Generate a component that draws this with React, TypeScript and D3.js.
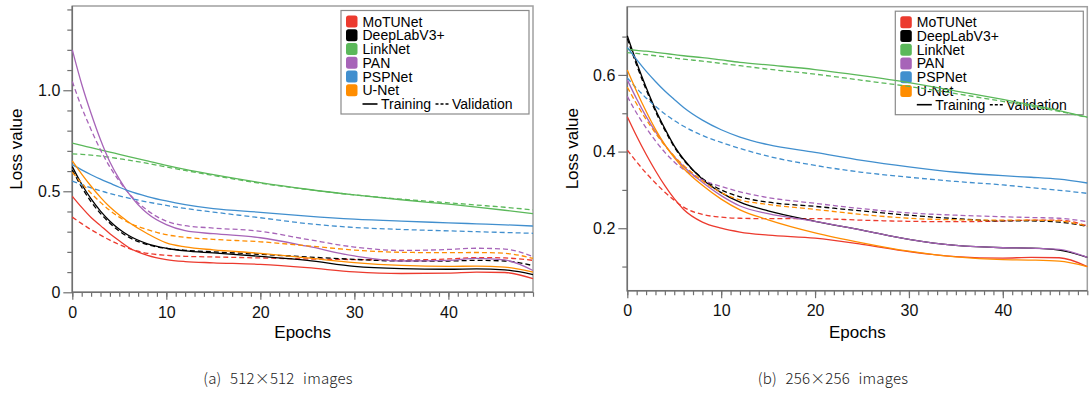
import React, { useEffect, useRef } from 'react'
import * as d3 from 'd3'

// sampled epochs (curves are smoothed between them)
const epochs = [0, 1, 2, 3, 4, 5, 6, 8, 10, 12, 15, 20, 25, 30, 35, 40, 43, 46, 49]

const models = ['MoTUNet', 'DeepLabV3+', 'LinkNet', 'PAN', 'PSPNet', 'U-Net']
const colors = ['#ec3a2e', '#000000', '#5bb85a', '#a764b8', '#418fce', '#ff8d00']

// (a) 512x512
const motunetTrain512 = [0.475, 0.420, 0.370, 0.330, 0.290, 0.255, 0.222, 0.183, 0.162, 0.152, 0.146, 0.138, 0.122, 0.101, 0.093, 0.095, 0.100, 0.098, 0.068]
const motunetVal512 = [0.372, 0.340, 0.310, 0.283, 0.258, 0.236, 0.217, 0.193, 0.183, 0.178, 0.175, 0.170, 0.165, 0.162, 0.160, 0.165, 0.172, 0.170, 0.158]
const deeplabTrain512 = [0.622, 0.535, 0.462, 0.402, 0.352, 0.312, 0.281, 0.240, 0.218, 0.205, 0.195, 0.178, 0.158, 0.128, 0.117, 0.114, 0.116, 0.111, 0.088]
const deeplabVal512 = [0.605, 0.520, 0.448, 0.390, 0.342, 0.303, 0.273, 0.236, 0.217, 0.208, 0.200, 0.188, 0.175, 0.163, 0.155, 0.155, 0.158, 0.155, 0.132]
const linknetTrain512 = [0.738, 0.727, 0.716, 0.705, 0.694, 0.683, 0.672, 0.650, 0.628, 0.608, 0.582, 0.543, 0.510, 0.482, 0.458, 0.436, 0.422, 0.406, 0.389]
const linknetVal512 = [0.685, 0.683, 0.679, 0.674, 0.668, 0.661, 0.654, 0.638, 0.620, 0.603, 0.578, 0.540, 0.509, 0.482, 0.461, 0.443, 0.432, 0.421, 0.408]
const panTrain512 = [1.200, 1.030, 0.885, 0.755, 0.645, 0.560, 0.490, 0.390, 0.335, 0.305, 0.290, 0.270, 0.228, 0.180, 0.155, 0.158, 0.168, 0.160, 0.108]
const panVal512 = [1.043, 0.915, 0.805, 0.705, 0.620, 0.550, 0.490, 0.405, 0.352, 0.330, 0.318, 0.302, 0.262, 0.224, 0.207, 0.212, 0.218, 0.214, 0.177]
const pspTrain512 = [0.632, 0.606, 0.582, 0.560, 0.540, 0.520, 0.502, 0.474, 0.452, 0.434, 0.414, 0.396, 0.377, 0.362, 0.352, 0.344, 0.339, 0.334, 0.328]
const pspVal512 = [0.550, 0.533, 0.517, 0.502, 0.489, 0.477, 0.466, 0.447, 0.430, 0.415, 0.397, 0.369, 0.340, 0.321, 0.311, 0.304, 0.300, 0.296, 0.292]
const unetTrain512 = [0.650, 0.585, 0.525, 0.470, 0.422, 0.382, 0.347, 0.290, 0.245, 0.225, 0.210, 0.193, 0.170, 0.147, 0.133, 0.128, 0.130, 0.125, 0.100]
const unetVal512 = [0.594, 0.540, 0.490, 0.445, 0.405, 0.372, 0.345, 0.310, 0.285, 0.272, 0.262, 0.250, 0.230, 0.209, 0.198, 0.196, 0.197, 0.193, 0.168]

// (b) 256x256
const motunetTrain256 = [0.491, 0.440, 0.393, 0.350, 0.311, 0.277, 0.249, 0.216, 0.200, 0.190, 0.182, 0.174, 0.158, 0.139, 0.126, 0.122, 0.124, 0.123, 0.100]
const motunetVal256 = [0.404, 0.373, 0.344, 0.318, 0.294, 0.273, 0.255, 0.236, 0.229, 0.226, 0.225, 0.225, 0.221, 0.218, 0.217, 0.219, 0.221, 0.221, 0.206]
const deeplabTrain256 = [0.702, 0.632, 0.568, 0.510, 0.460, 0.415, 0.380, 0.328, 0.293, 0.268, 0.245, 0.218, 0.195, 0.171, 0.155, 0.149, 0.148, 0.143, 0.124]
const deeplabVal256 = [0.695, 0.625, 0.562, 0.505, 0.456, 0.412, 0.378, 0.330, 0.300, 0.282, 0.268, 0.257, 0.245, 0.234, 0.225, 0.219, 0.219, 0.216, 0.205]
const linknetTrain256 = [0.667, 0.664, 0.662, 0.659, 0.656, 0.653, 0.650, 0.645, 0.639, 0.633, 0.626, 0.614, 0.598, 0.580, 0.558, 0.536, 0.522, 0.507, 0.490]
const linknetVal256 = [0.658, 0.656, 0.653, 0.650, 0.647, 0.644, 0.641, 0.636, 0.630, 0.624, 0.615, 0.602, 0.586, 0.570, 0.551, 0.531, 0.518, 0.505, 0.489]
const panTrain256 = [0.587, 0.537, 0.492, 0.452, 0.417, 0.387, 0.361, 0.320, 0.285, 0.258, 0.238, 0.218, 0.195, 0.171, 0.155, 0.149, 0.148, 0.145, 0.124]
const panVal256 = [0.544, 0.500, 0.462, 0.428, 0.398, 0.373, 0.353, 0.326, 0.309, 0.295, 0.280, 0.265, 0.251, 0.240, 0.234, 0.230, 0.228, 0.226, 0.217]
const pspTrain256 = [0.672, 0.640, 0.610, 0.583, 0.558, 0.536, 0.515, 0.482, 0.457, 0.438, 0.418, 0.398, 0.377, 0.360, 0.346, 0.337, 0.333, 0.328, 0.318]
const pspVal256 = [0.592, 0.565, 0.540, 0.518, 0.498, 0.481, 0.466, 0.442, 0.424, 0.408, 0.388, 0.364, 0.346, 0.333, 0.322, 0.313, 0.306, 0.299, 0.291]
const unetTrain256 = [0.613, 0.557, 0.505, 0.458, 0.418, 0.384, 0.356, 0.312, 0.276, 0.248, 0.222, 0.188, 0.162, 0.140, 0.125, 0.118, 0.117, 0.114, 0.100]
const unetVal256 = [0.568, 0.524, 0.484, 0.448, 0.416, 0.388, 0.364, 0.324, 0.293, 0.274, 0.262, 0.249, 0.236, 0.226, 0.222, 0.221, 0.221, 0.219, 0.205]

const xMajorTicks = [0, 10, 20, 30, 40]
const xMinorTicks = d3.range(0, 50)
const yMajorTicksA = [0, 0.5, 1.0]
const yMinorTicksA = [0.1, 0.2, 0.3, 0.4, 0.6, 0.7, 0.8, 0.9, 1.1, 1.2, 1.3, 1.4]
const yMajorTicksB = [0.2, 0.4, 0.6]
const yMinorTicksB = [0.1, 0.3, 0.5, 0.7]

const FONT = '"Liberation Sans", Arial, Helvetica, sans-serif'

interface PanelSpec {
    x0: number; x1: number; y0: number; y1: number
    yDomain: [number, number]
    yMajor: number[]; yMinor: number[]
    fmt: (v: number) => string
    train: number[][]; val: number[][]
    caption: string; captionX: number; ylabelX: number
}

function drawPanel(svg: d3.Selection<SVGSVGElement, unknown, null, undefined>, p: PanelSpec) {
    const x = d3.scaleLinear().domain([0, 49]).range([p.x0, p.x1])
    const y = d3.scaleLinear().domain(p.yDomain).range([p.y1, p.y0])
    const g = svg.append('g')

    // frame
    g.append('rect')
        .attr('x', p.x0).attr('y', p.y0)
        .attr('width', p.x1 - p.x0).attr('height', p.y1 - p.y0)
        .attr('fill', 'none').attr('stroke', '#a0a0a0').attr('stroke-width', 1.5)

    // legend (lines are drawn over it)
    const lx = p.x1 - 4 - 188, ly = p.y0 + 4.5
    const lg = g.append('g').attr('font-family', FONT).attr('font-size', 14)
    lg.append('rect').attr('x', lx).attr('y', ly).attr('width', 188).attr('height', 103.5)
        .attr('fill', 'none').attr('stroke', '#8a8a8a').attr('stroke-width', 1.2)
    models.forEach((m, i) => {
        const cy = ly + 11 + i * 13.75
        lg.append('rect').attr('x', lx + 5).attr('y', cy - 6).attr('width', 11.5).attr('height', 12)
            .attr('rx', 2.5).attr('fill', colors[i])
        lg.append('text').attr('x', lx + 21.5).attr('y', cy).attr('dy', '0.36em').text(m)
    })
    const cy = ly + 11 + 6 * 13.75
    lg.append('line').attr('x1', lx + 21.5).attr('x2', lx + 36.5).attr('y1', cy).attr('y2', cy)
        .attr('stroke', '#000').attr('stroke-width', 1.6)
    lg.append('text').attr('x', lx + 40).attr('y', cy).attr('dy', '0.36em').text('Training')
    lg.append('line').attr('x1', lx + 94.5).attr('x2', lx + 107.5).attr('y1', cy).attr('y2', cy)
        .attr('stroke', '#000').attr('stroke-width', 1.6).attr('stroke-dasharray', '3,2')
    lg.append('text').attr('x', lx + 111).attr('y', cy).attr('dy', '0.36em').text('Validation')

    // x axis
    const gxMinor = g.append('g').attr('transform', `translate(0,${p.y1})`)
        .call(d3.axisBottom(x).tickValues(xMinorTicks).tickSize(4.5).tickSizeOuter(0).tickFormat(() => ''))
    const gxMajor = g.append('g').attr('transform', `translate(0,${p.y1})`)
        .call(d3.axisBottom(x).tickValues(xMajorTicks).tickSize(7.5).tickSizeOuter(0).tickPadding(6.5).tickFormat(d3.format('d')))
    // y axis
    const gyMinor = g.append('g').attr('transform', `translate(${p.x0},0)`)
        .call(d3.axisLeft(y).tickValues(p.yMinor).tickSize(5).tickSizeOuter(0).tickFormat(() => ''))
    const gyMajor = g.append('g').attr('transform', `translate(${p.x0},0)`)
        .call(d3.axisLeft(y).tickValues(p.yMajor).tickSize(9).tickSizeOuter(0).tickPadding(3).tickFormat(d => p.fmt(+d)))

    for (const ax of [gxMinor, gxMajor, gyMinor, gyMajor]) {
        ax.select('.domain').remove()
        ax.selectAll('.tick line').attr('stroke', '#707070').attr('stroke-width', 1.2)
        ax.selectAll('.tick text').attr('font-family', FONT).attr('font-size', 16).attr('fill', '#111')
    }
    g.append('line').attr('x1', p.x0).attr('x2', p.x0).attr('y1', p.y0).attr('y2', p.y1 + 0.75)
        .attr('stroke', '#707070').attr('stroke-width', 1.5)
    g.append('line').attr('x1', p.x0).attr('x2', p.x1).attr('y1', p.y1).attr('y2', p.y1)
        .attr('stroke', '#707070').attr('stroke-width', 1.5)

    // curves
    const line = d3.line<number>()
        .x((_, i) => x(epochs[i]))
        .y(d => y(d))
        .curve(d3.curveMonotoneX)
    models.forEach((_, i) => {
        g.append('path').attr('d', line(p.train[i])).attr('fill', 'none')
            .attr('stroke', colors[i]).attr('stroke-width', 1.3)
        g.append('path').attr('d', line(p.val[i])).attr('fill', 'none')
            .attr('stroke', colors[i]).attr('stroke-width', 1.3).attr('stroke-dasharray', '5,3')
    })

    // labels
    g.append('text')
        .attr('x', (p.x0 + p.x1) / 2).attr('y', 338)
        .attr('text-anchor', 'middle').attr('font-family', FONT).attr('font-size', 17)
        .text('Epochs')
    g.append('text')
        .attr('transform', `translate(${p.ylabelX},${(p.y0 + p.y1) / 2}) rotate(-90)`)
        .attr('text-anchor', 'middle').attr('font-family', FONT).attr('font-size', 17)
        .text('Loss value')
    g.append('text')
        .attr('x', p.captionX).attr('y', 384)
        .attr('text-anchor', 'middle').attr('font-family', '"Noto Sans CJK KR", "Noto Sans", sans-serif')
        .attr('font-size', 15).attr('font-weight', 300).attr('fill', '#222')
        .attr('letter-spacing', 0.2).attr('word-spacing', 5)
        .text(p.caption)
}

export default function App() {
    const svgRef = useRef<SVGSVGElement>(null)

    useEffect(() => {
        if (!svgRef.current) return
        const svg = d3.select(svgRef.current)
        svg.selectAll('*').remove()

        drawPanel(svg, {
            x0: 72.3, x1: 533, y0: 6, y1: 292.3,
            yDomain: [0, 1.417],
            yMajor: yMajorTicksA, yMinor: yMinorTicksA,
            fmt: v => (v === 0 ? '0' : d3.format('.1f')(v)),
            train: [motunetTrain512, deeplabTrain512, linknetTrain512, panTrain512, pspTrain512, unetTrain512],
            val: [motunetVal512, deeplabVal512, linknetVal512, panVal512, pspVal512, unetVal512],
            caption: '(a) 512×512 images', captionX: 278, ylabelX: 22,
        })
        drawPanel(svg, {
            x0: 627.3, x1: 1087.3, y0: 6.7, y1: 290.7,
            yDomain: [0.037, 0.778],
            yMajor: yMajorTicksB, yMinor: yMinorTicksB,
            fmt: v => d3.format('.1f')(v),
            train: [motunetTrain256, deeplabTrain256, linknetTrain256, panTrain256, pspTrain256, unetTrain256],
            val: [motunetVal256, deeplabVal256, linknetVal256, panVal256, pspVal256, unetVal256],
            caption: '(b) 256×256 images', captionX: 833, ylabelX: 578,
        })
    }, [])

    return (
        <svg ref={svgRef} width={1091} height={393} viewBox="0 0 1091 393"
            style={{ position: 'absolute', left: 0, top: 0, background: '#fff' }} />
    )
}
